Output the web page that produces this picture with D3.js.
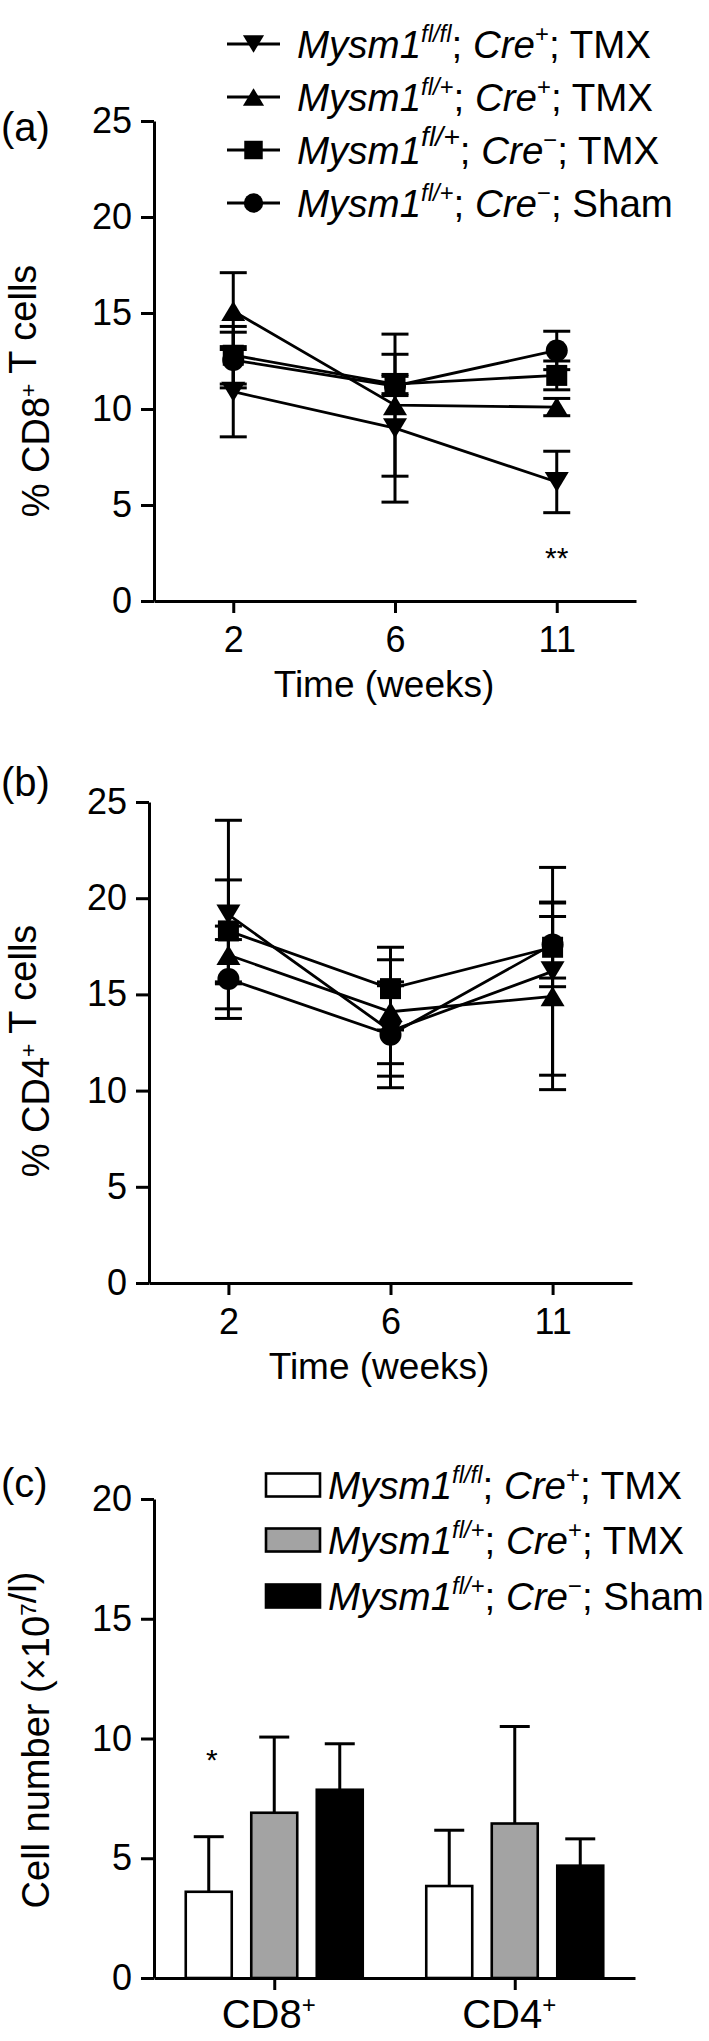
<!DOCTYPE html>
<html><head><meta charset="utf-8">
<script src="https://cdn.jsdelivr.net/npm/d3@7"></script>
<style>
body{margin:0;background:#fff;}
svg text{font-family:"Liberation Sans", Arial, Helvetica, sans-serif; fill:#000;}
</style></head><body>
<svg id="chart" width="709" height="2041" style="background:#fff"></svg>
<script>
// ---------- DATA ----------
const weeks = ["2", "6", "11"];
const seriesGenotype = ["fl/fl", "fl/+", "fl/+", "fl/+"];
const seriesCre = ["+", "+", "\u2212", "\u2212"];
const seriesTreatment = ["TMX", "TMX", "TMX", "Sham"];
const seriesSymbol = ["triangleDown", "triangleUp", "square", "circle"];

// panel (a) % CD8+ T cells, mean and error per series (rows) per week (cols)
const cd8Means  = [[10.9, 9.0, 6.2], [15.1, 10.2, 10.1], [12.8, 11.3, 11.75], [12.55, 11.2, 13.05]];
const cd8Errors = [[2.35, 3.85, 1.6], [2.0, 3.7, 0.45], [1.5, 0.5, 0.75], [1.45, 0.5, 1.0]];
// panel (b) % CD4+ T cells
const cd4Means  = [[19.15, 13.1, 16.2], [17.05, 14.1, 14.9], [18.3, 15.3, 17.45], [15.8, 12.9, 17.6]];
const cd4Errors = [[4.9, 2.35, 5.4], [1.5, 2.7, 4.85], [2.65, 2.15, 1.6], [2.05, 2.75, 2.2]];
const lineTicks = [0, 5, 10, 15, 20, 25];

// panel (c) cell number
const barCategories = ["CD8", "CD4"];
const barGenotype = ["fl/fl", "fl/+", "fl/+"];
const barCre = ["+", "+", "\u2212"];
const barTreatment = ["TMX", "TMX", "Sham"];
const barMeans  = [[3.6, 3.84], [6.9, 6.45], [7.86, 4.69]];
const barErrors = [[2.3, 2.33], [3.16, 4.05], [1.92, 1.12]];
const barTicks = [0, 5, 10, 15, 20];

// ---------- STYLE ----------
const barFills = ["#ffffff", "#a3a3a3", "#000000"];
const legendSupScaleA = [0.62, 0.62, 0.74, 0.62];
const TICK_FS = 36, TITLE_FS = 37, YTITLE_FS = 38, LEG_FS = 38.5, PANEL_FS = 40, CAT_FS = 40;

const svg = d3.select("#chart");

function symbolPath(type, k) {
  k = k || 1;
  const w = 24 * k, h = 20 * k, s = 21 * k, r = 11 * k;
  switch (type) {
    case "triangleUp": return `M0,${-h/2}L${w/2},${h/2}L${-w/2},${h/2}Z`;
    case "triangleDown": return `M0,${h/2}L${w/2},${-h/2}L${-w/2},${-h/2}Z`;
    case "square": return `M${-s/2},${-s/2}h${s}v${s}h${-s}Z`;
    default: return d3.arc()({innerRadius: 0, outerRadius: r, startAngle: 0, endAngle: 2 * Math.PI});
  }
}

function styleAxis(g, fs) {
  g.select(".domain").attr("stroke", "#000").attr("stroke-width", 3);
  g.selectAll(".tick line").attr("stroke", "#000").attr("stroke-width", 3);
  g.selectAll(".tick text").attr("font-size", fs).attr("fill", "#000")
    .style("font-family", '"Liberation Sans", Arial, sans-serif');
  g.attr("font-size", null).attr("font-family", null);
}

function legendLabel(g, x, y, genotype, cre, treatment, fs, supScale) {
  supScale = supScale || 0.62;
  const t = g.append("text").attr("x", x).attr("y", y).attr("font-size", fs);
  const up = 0.4 * fs, upG = (0.4 + (supScale - 0.62) * 0.5) * fs;
  t.append("tspan").attr("font-style", "italic").text("Mysm1");
  t.append("tspan").attr("font-style", "italic").attr("font-size", supScale * fs).attr("dy", -upG).text(genotype);
  t.append("tspan").attr("dy", upG).text("; ");
  t.append("tspan").attr("font-style", "italic").text("Cre");
  t.append("tspan").attr("font-size", 0.62 * fs).attr("dy", -up).text(cre);
  t.append("tspan").attr("dy", up).text("; " + treatment);
}

function rotatedTitle(g, cx, cy, parts, fs) {
  const t = g.append("text").attr("transform", `translate(${cx},${cy}) rotate(-90)`)
    .attr("text-anchor", "middle").attr("font-size", fs);
  const up = 0.34 * fs;
  parts.forEach(p => {
    if (p.sup) {
      t.append("tspan").attr("font-size", 0.6 * fs).attr("dy", -up).text(p.t);
      t.append("tspan").attr("dy", up).text("");
    } else t.append("tspan").text(p.t);
  });
}

function drawLinePanel(cfg) {
  const g = svg.append("g");
  const y = d3.scaleLinear().domain([0, 25]).range([cfg.y0, cfg.y25]);
  const x = d3.scalePoint().domain(weeks).range([cfg.xLeft, cfg.xRight]).padding(0.49);

  const ya = g.append("g").attr("transform", `translate(${cfg.xLeft},0)`)
    .call(d3.axisLeft(y).tickValues(lineTicks).tickSize(13).tickSizeOuter(0).tickPadding(9));
  styleAxis(ya, TICK_FS);
  const xa = g.append("g").attr("transform", `translate(0,${cfg.y0})`)
    .call(d3.axisBottom(x).tickSize(12).tickSizeOuter(0).tickPadding(13));
  styleAxis(xa, TICK_FS);

  g.append("text").attr("x", cfg.titleX).attr("y", cfg.y0 + 96).attr("text-anchor", "middle")
    .attr("font-size", TITLE_FS).text("Time (weeks)");
  rotatedTitle(g, 49, cfg.yTitleC, cfg.yTitle, YTITLE_FS);
  g.append("text").attr("x", 1).attr("y", cfg.panelY).attr("font-size", PANEL_FS).text(cfg.panel);

  const line = d3.line().x(d => x(d.w)).y(d => y(d.v));
  const series = cfg.means.map((m, i) => m.map((v, j) => ({w: weeks[j], v, e: cfg.errors[i][j], s: i})));

  series.forEach(pts => {
    g.append("path").attr("d", line(pts)).attr("fill", "none").attr("stroke", "#000").attr("stroke-width", 2.8);
  });
  series.forEach(pts => {
    pts.forEach(p => {
      const cx = x(p.w);
      g.append("line").attr("x1", cx).attr("x2", cx).attr("y1", y(p.v - p.e)).attr("y2", y(p.v + p.e))
        .attr("stroke", "#000").attr("stroke-width", 3);
      [p.v - p.e, p.v + p.e].forEach(v => {
        g.append("line").attr("x1", cx - 13.5).attr("x2", cx + 13.5).attr("y1", y(v)).attr("y2", y(v))
          .attr("stroke", "#000").attr("stroke-width", 3);
      });
    });
  });
  series.forEach((pts, i) => {
    pts.forEach(p => {
      g.append("path").attr("d", symbolPath(seriesSymbol[i]))
        .attr("transform", `translate(${x(p.w)},${y(p.v)})`).attr("fill", "#000");
    });
  });
  return {g, x, y};
}

// ---------- PANEL (a) ----------
const pa = drawLinePanel({
  y0: 601, y25: 121, xLeft: 154, xRight: 636, titleX: 384,
  means: cd8Means, errors: cd8Errors, panel: "(a)", panelY: 141,
  yTitle: [{t: "% CD8"}, {t: "+", sup: true}, {t: " T cells"}], yTitleC: 391
});
// legend (a)
const legRowsA = [44, 97, 150, 203];
seriesSymbol.forEach((s, i) => {
  const yy = legRowsA[i];
  svg.append("line").attr("x1", 227).attr("x2", 280).attr("y1", yy).attr("y2", yy)
    .attr("stroke", "#000").attr("stroke-width", 3);
  svg.append("path").attr("d", symbolPath(s, 0.88)).attr("transform", `translate(253.5,${yy})`).attr("fill", "#000");
  legendLabel(svg, 297, yy + 0.36 * LEG_FS, seriesGenotype[i], seriesCre[i], seriesTreatment[i], LEG_FS, legendSupScaleA[i]);
});
svg.append("text").attr("x", pa.x("11")).attr("y", 568).attr("text-anchor", "middle")
  .attr("font-size", 30).text("**");

// ---------- PANEL (b) ----------
drawLinePanel({
  y0: 1283, y25: 802, xLeft: 149, xRight: 632, titleX: 379,
  means: cd4Means, errors: cd4Errors, panel: "(b)", panelY: 796,
  yTitle: [{t: "% CD4"}, {t: "+", sup: true}, {t: " T cells"}], yTitleC: 1051
});

// ---------- PANEL (c) ----------
(function () {
  const g = svg.append("g");
  const y = d3.scaleLinear().domain([0, 20]).range([1978, 1499]);
  const xg = d3.scalePoint().domain(barCategories).range([154, 635]).padding(0.5);
  const xs = d3.scaleBand().domain(d3.range(barMeans.length)).range([-88.5, 88.5]).paddingInner(0.298);

  barMeans.forEach((row, i) => {
    row.forEach((v, j) => {
      const bx = xg(barCategories[j]) + xs(i);
      const cx = bx + xs.bandwidth() / 2;
      const e = barErrors[i][j];
      g.append("line").attr("x1", cx).attr("x2", cx).attr("y1", y(v)).attr("y2", y(v + e))
        .attr("stroke", "#000").attr("stroke-width", 3);
      g.append("line").attr("x1", cx - 15).attr("x2", cx + 15).attr("y1", y(v + e)).attr("y2", y(v + e))
        .attr("stroke", "#000").attr("stroke-width", 3);
      g.append("rect").attr("x", bx).attr("y", y(v)).attr("width", xs.bandwidth()).attr("height", y(0) - y(v))
        .attr("fill", barFills[i]).attr("stroke", "#000").attr("stroke-width", 2.6);
    });
  });

  const ya = g.append("g").attr("transform", "translate(154,0)")
    .call(d3.axisLeft(y).tickValues(barTicks).tickSize(13).tickSizeOuter(0).tickPadding(9));
  styleAxis(ya, TICK_FS);
  const xa = g.append("g").attr("transform", "translate(0,1978)")
    .call(d3.axisBottom(xg).tickSize(12).tickSizeOuter(0).tickPadding(10));
  styleAxis(xa, CAT_FS);
  xa.selectAll(".tick text").attr("x", -6).each(function (d) {
    const t = d3.select(this);
    t.text(null);
    t.append("tspan").text(d);
    t.append("tspan").attr("font-size", 0.6 * CAT_FS).attr("dy", -0.38 * CAT_FS).text("+");
  });

  rotatedTitle(g, 49, 1740, [{t: "Cell number (\u00d710"}, {t: "7", sup: true}, {t: "/l)"}], YTITLE_FS);
  g.append("text").attr("x", 1).attr("y", 1497).attr("font-size", PANEL_FS).text("(c)");
  g.append("text").attr("x", xg("CD8") + xs(0) + xs.bandwidth() / 2 + 3).attr("y", 1770)
    .attr("text-anchor", "middle").attr("font-size", 30).text("*");

  const legRowsC = [1485, 1540, 1596];
  legRowsC.forEach((yy, i) => {
    g.append("rect").attr("x", 266).attr("y", yy - 11.5).attr("width", 54).attr("height", 23)
      .attr("fill", barFills[i]).attr("stroke", "#000").attr("stroke-width", 2.6);
    legendLabel(g, 328, yy + 0.36 * LEG_FS, barGenotype[i], barCre[i], barTreatment[i], LEG_FS);
  });
})();
</script>
</body></html>
